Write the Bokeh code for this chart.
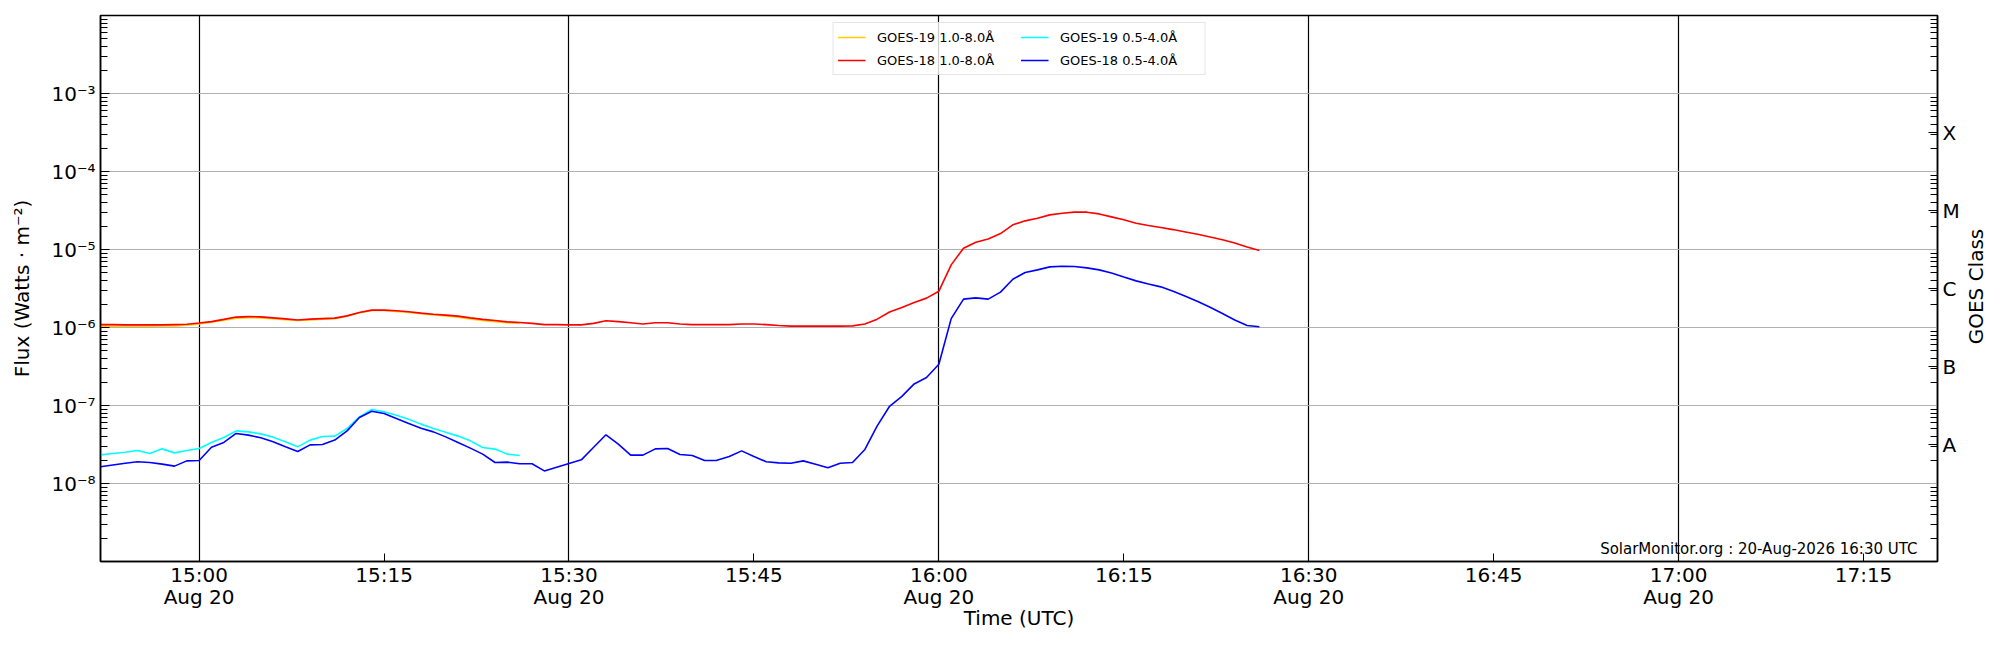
import calendar
import math
from datetime import datetime, timedelta

from bokeh.plotting import figure
from bokeh.layouts import row
from bokeh.models import (Range1d, FixedTicker, LogAxis, Legend, LegendItem,
                          Label, ColumnDataSource)
from bokeh.embed import file_html
from bokeh.resources import INLINE

# ---------------- data (1-minute cadence from 14:52 UTC, 20 Aug 2026) ----------------
start_time = datetime(2026, 8, 20, 14, 52)

goes18_long = [
    1.09e-6, 1.09e-6, 1.08e-6, 1.08e-6, 1.08e-6, 1.08e-6, 1.09e-6, 1.10e-6, 1.14e-6, 1.19e-6,
    1.27e-6, 1.36e-6, 1.38e-6, 1.37e-6, 1.33e-6, 1.29e-6, 1.25e-6, 1.28e-6, 1.30e-6, 1.32e-6,
    1.41e-6, 1.56e-6, 1.67e-6, 1.67e-6, 1.64e-6, 1.59e-6, 1.53e-6, 1.48e-6, 1.44e-6, 1.40e-6,
    1.33e-6, 1.27e-6, 1.23e-6, 1.18e-6, 1.16e-6, 1.13e-6, 1.09e-6, 1.09e-6, 1.08e-6, 1.08e-6,
    1.13e-6, 1.22e-6, 1.19e-6, 1.15e-6, 1.11e-6, 1.15e-6, 1.15e-6, 1.11e-6, 1.09e-6, 1.09e-6,
    1.09e-6, 1.09e-6, 1.11e-6, 1.11e-6, 1.09e-6, 1.06e-6, 1.04e-6, 1.04e-6, 1.04e-6, 1.04e-6,
    1.04e-6, 1.05e-6, 1.11e-6, 1.28e-6, 1.58e-6, 1.80e-6, 2.09e-6, 2.38e-6, 2.92e-6, 6.35e-6,
    1.04e-5, 1.24e-5, 1.36e-5, 1.60e-5, 2.07e-5, 2.33e-5, 2.52e-5, 2.78e-5, 2.92e-5, 3.01e-5,
    3.01e-5, 2.86e-5, 2.62e-5, 2.40e-5, 2.17e-5, 2.03e-5, 1.91e-5, 1.80e-5, 1.68e-5, 1.57e-5,
    1.45e-5, 1.33e-5, 1.21e-5, 1.08e-5, 9.71e-6,
]

goes18_short = [
    1.64e-8, 1.73e-8, 1.82e-8, 1.90e-8, 1.86e-8, 1.77e-8, 1.67e-8, 1.95e-8, 1.97e-8, 2.92e-8,
    3.36e-8, 4.38e-8, 4.17e-8, 3.85e-8, 3.42e-8, 2.95e-8, 2.57e-8, 3.13e-8, 3.16e-8, 3.60e-8,
    4.73e-8, 7.02e-8, 8.45e-8, 7.89e-8, 6.80e-8, 5.87e-8, 5.12e-8, 4.59e-8, 3.96e-8, 3.36e-8,
    2.84e-8, 2.38e-8, 1.86e-8, 1.88e-8, 1.79e-8, 1.79e-8, 1.45e-8, 1.62e-8, 1.80e-8, 2.01e-8,
    2.92e-8, 4.21e-8, 3.19e-8, 2.31e-8, 2.31e-8, 2.78e-8, 2.81e-8, 2.35e-8, 2.29e-8, 1.97e-8,
    1.98e-8, 2.22e-8, 2.62e-8, 2.22e-8, 1.90e-8, 1.84e-8, 1.82e-8, 1.95e-8, 1.77e-8, 1.59e-8,
    1.82e-8, 1.86e-8, 2.73e-8, 5.48e-8, 9.77e-8, 1.31e-7, 1.89e-7, 2.28e-7, 3.38e-7, 1.30e-6,
    2.31e-6, 2.40e-6, 2.31e-6, 2.84e-6, 4.16e-6, 5.07e-6, 5.48e-6, 5.99e-6, 6.11e-6, 6.05e-6,
    5.82e-6, 5.48e-6, 5.01e-6, 4.45e-6, 3.96e-6, 3.62e-6, 3.32e-6, 2.92e-6, 2.52e-6, 2.15e-6,
    1.82e-6, 1.51e-6, 1.25e-6, 1.06e-6, 1.02e-6,
]

goes19_long = [
    1.04e-6, 1.04e-6, 1.04e-6, 1.04e-6, 1.04e-6, 1.05e-6, 1.05e-6, 1.07e-6, 1.11e-6, 1.17e-6,
    1.24e-6, 1.32e-6, 1.34e-6, 1.33e-6, 1.30e-6, 1.26e-6, 1.23e-6, 1.25e-6, 1.28e-6, 1.30e-6,
    1.40e-6, 1.55e-6, 1.65e-6, 1.65e-6, 1.61e-6, 1.56e-6, 1.50e-6, 1.45e-6, 1.41e-6, 1.36e-6,
    1.29e-6, 1.23e-6, 1.19e-6, 1.15e-6, 1.13e-6,
]

goes19_short = [
    2.33e-8, 2.43e-8, 2.52e-8, 2.65e-8, 2.43e-8, 2.78e-8, 2.47e-8, 2.65e-8, 2.81e-8, 3.36e-8,
    3.89e-8, 4.73e-8, 4.59e-8, 4.33e-8, 3.93e-8, 3.42e-8, 2.95e-8, 3.60e-8, 4.01e-8, 4.05e-8,
    5.07e-8, 7.16e-8, 8.89e-8, 8.30e-8, 7.52e-8, 6.68e-8, 5.77e-8, 5.07e-8, 4.55e-8, 4.05e-8,
    3.52e-8, 2.90e-8, 2.76e-8, 2.38e-8, 2.29e-8,
]

x_tick_times = ["15:00", "15:15", "15:30", "15:45", "16:00", "16:15",
                "16:30", "16:45", "17:00", "17:15"]
x_tick_labels = ["15:00\nAug 20", "15:15", "15:30\nAug 20", "15:45", "16:00\nAug 20",
                 "16:15", "16:30\nAug 20", "16:45", "17:00\nAug 20", "17:15"]
y_tick_labels = ["10\u207b\u2078", "10\u207b\u2077", "10\u207b\u2076",
                 "10\u207b\u2075", "10\u207b\u2074", "10\u207b\u00b3"]
class_labels = ["A", "B", "C", "M", "X"]

series_names = ["GOES-19 1.0-8.0\u00c5", "GOES-19 0.5-4.0\u00c5",
                "GOES-18 1.0-8.0\u00c5", "GOES-18 0.5-4.0\u00c5"]
series_colors = ["#ffcc00", "#00ffff", "#ff0000", "#0000ff"]

credit = "SolarMonitor.org : 20-Aug-2026 16:30 UTC"
right_title = "GOES Class"

# ---------------- helpers ----------------
FONT = "DejaVu Sans"
H = 634
TOP, BOTTOM = 15, 73


def to_ms(dt):
    return calendar.timegm(dt.timetuple()) * 1000.0


def times_for(n):
    return [start_time + timedelta(minutes=i) for i in range(n)]


x_start = datetime(2026, 8, 20, 14, 52)
x_end = datetime(2026, 8, 20, 17, 21)

x_ticks = [to_ms(datetime(2026, 8, 20, int(s[:2]), int(s[3:]))) for s in x_tick_times]
x_half_hours = [t for t, s in zip(x_ticks, x_tick_times) if s.endswith(("00", "30"))]

decades = [10.0 ** e for e in range(-8, -2)]
minor = [k * 10.0 ** e for e in range(-9, -2) for k in range(2, 10)]
class_centers = [10.0 ** (e + 0.5) for e in range(-8, -3)]

p = figure(width=1962, height=H, x_axis_type="datetime", y_axis_type="log",
           x_range=Range1d(x_start, x_end), y_range=Range1d(1e-9, 1e-2),
           output_backend="svg", toolbar_location=None,
           min_border_left=100, min_border_right=22, min_border_top=TOP,
           min_border_bottom=BOTTOM)
p.background_fill_color = "white"
p.border_fill_color = "white"
p.outline_line_color = "black"
p.outline_line_width = 1.5
p.outline_line_alpha = 1.0

# grids
p.ygrid.ticker = FixedTicker(ticks=decades)
p.ygrid.grid_line_color = "#b0b0b0"
p.ygrid.grid_line_width = 1
p.xgrid.ticker = FixedTicker(ticks=x_half_hours)
p.xgrid.grid_line_color = "black"
p.xgrid.grid_line_width = 1.2

# bottom axis
xa = p.xaxis[0]
xa.ticker = FixedTicker(ticks=x_ticks, minor_ticks=[])
xa.major_label_overrides = dict(zip(x_ticks, x_tick_labels))
xa.axis_label = "Time (UTC)"

# left axis
ya = p.yaxis[0]
ya.ticker = FixedTicker(ticks=decades, minor_ticks=minor)
ya.major_label_overrides = dict(zip(decades, y_tick_labels))
ya.axis_label = "Flux (Watts \u00b7 m\u207b\u00b2)"

# right axis (class letters)
ra = LogAxis(ticker=FixedTicker(ticks=class_centers, minor_ticks=minor),
             major_label_overrides=dict(zip(class_centers, class_labels)))
p.add_layout(ra, "right")

for ax in (xa, ya, ra):
    ax.axis_line_color = "black"
    ax.axis_line_width = 1.5
    ax.major_tick_line_color = "black"
    ax.minor_tick_line_color = "black"
    ax.major_tick_in = 9
    ax.major_tick_out = 0
    ax.minor_tick_in = 7
    ax.minor_tick_out = 0
    ax.major_label_text_font = FONT
    ax.major_label_text_font_size = "20px"
    ax.major_label_text_color = "black"
    ax.axis_label_text_font = FONT
    ax.axis_label_text_font_size = "20px"
    ax.axis_label_text_font_style = "normal"
    ax.axis_label_text_color = "black"

xa.major_tick_in = 8
xa.major_label_standoff = 1
xa.major_label_text_line_height = 0.95
xa.axis_label_standoff = -6
ya.major_label_standoff = 5
ya.axis_label_standoff = 14
ra.major_label_standoff = 5

# data lines
series = [goes19_long, goes19_short, goes18_long, goes18_short]
items = []
for name, color, vals in zip(series_names, series_colors, series):
    src = ColumnDataSource(data=dict(t=times_for(len(vals)), flux=vals))
    r = p.line("t", "flux", source=src, line_color=color, line_width=1.6)
    items.append((name, r))

order = [0, 2, 1, 3]
legend = Legend(items=[LegendItem(label=items[i][0], renderers=[items[i][1]]) for i in order],
                ncols=2, location="top_center", orientation="vertical")
legend.label_text_font = FONT
legend.label_text_font_size = "13px"
legend.label_text_color = "black"
legend.glyph_width = 28
legend.glyph_height = 20
legend.label_standoff = 12
legend.label_width = 140
legend.spacing = 3
legend.padding = 4
legend.margin = 7
legend.border_line_color = "#cccccc"
legend.border_line_width = 1
legend.background_fill_color = "white"
legend.background_fill_alpha = 0.8
p.add_layout(legend)

p.add_layout(Label(x=1817, y=13, x_units="screen", y_units="screen", text=credit,
                   text_align="right", text_baseline="alphabetic",
                   text_font=FONT, text_font_size="15px", text_color="black"))

# narrow strip to the right holding the right-hand axis title (reads bottom to top)
side = figure(width=22, height=H, x_range=Range1d(0, 1), y_range=Range1d(0, 1),
              output_backend="svg", toolbar_location=None,
              x_axis_location=None, y_axis_location=None,
              min_border_left=0, min_border_right=0, min_border_top=0, min_border_bottom=0)
side.outline_line_color = None
side.grid.visible = False
side.background_fill_color = "white"
side.border_fill_color = "white"
side.add_layout(Label(x=13, y=275, x_units="screen",
                      y_units="screen", text=right_title, angle=math.pi / 2,
                      angle_units="rad", text_align="center", text_baseline="middle",
                      text_font=FONT, text_font_size="20px", text_color="black"))

layout = row(p, side, spacing=0)
open("out.html", "w").write(file_html(layout, INLINE))
